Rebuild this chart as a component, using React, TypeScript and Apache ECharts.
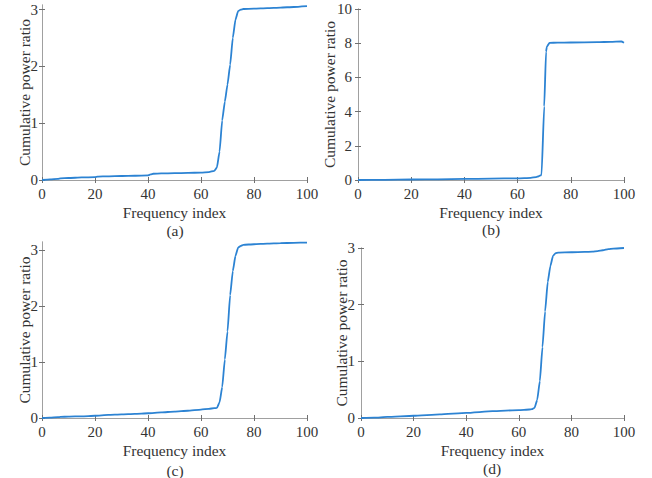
import React, { useEffect, useRef } from 'react';
import * as echarts from 'echarts';

// Panel (a)
const freqA = [0, 3, 6, 7, 10, 15, 20, 21, 25, 30, 35, 40, 41, 42, 45, 50, 55, 60, 63, 65, 66, 67, 68, 69, 70, 71, 72, 73, 74, 75, 76, 80, 85, 90, 95, 100];
const ratioA = [0, 0.01, 0.02, 0.03, 0.035, 0.045, 0.05, 0.06, 0.065, 0.07, 0.075, 0.08, 0.1, 0.11, 0.115, 0.12, 0.125, 0.13, 0.14, 0.16, 0.22, 0.5, 1.05, 1.38, 1.68, 2.03, 2.5, 2.82, 2.97, 3.0, 3.01, 3.015, 3.025, 3.035, 3.045, 3.06];

// Panel (b)
const freqB = [0, 10, 20, 30, 40, 50, 60, 65, 67, 68, 69, 70, 70.7, 71, 72, 75, 80, 90, 95, 99, 100];
const ratioB = [0, 0.01, 0.03, 0.04, 0.06, 0.08, 0.1, 0.13, 0.17, 0.22, 0.3, 4.3, 7.5, 7.8, 8.02, 8.03, 8.04, 8.06, 8.08, 8.1, 8.03];

// Panel (c)
const freqC = [0, 3, 6, 7, 10, 15, 20, 25, 30, 35, 40, 45, 50, 55, 60, 63, 65, 66, 67, 68, 69, 70, 71, 72, 73, 74, 75, 76, 80, 85, 90, 95, 100];
const ratioC = [0, 0.005, 0.015, 0.02, 0.025, 0.03, 0.04, 0.055, 0.065, 0.075, 0.085, 0.1, 0.115, 0.13, 0.15, 0.165, 0.175, 0.18, 0.28, 0.55, 1.05, 1.55, 2.2, 2.63, 2.9, 3.05, 3.08, 3.1, 3.11, 3.12, 3.13, 3.135, 3.14];

// Panel (d)
const freqD = [0, 5, 10, 20, 30, 40, 50, 60, 64, 65, 66, 67, 68, 69, 70, 71, 72, 73, 74, 75, 80, 85, 88, 90, 92, 94, 96, 100];
const ratioD = [0, 0.005, 0.02, 0.04, 0.065, 0.09, 0.12, 0.14, 0.15, 0.155, 0.18, 0.32, 0.65, 1.25, 1.88, 2.4, 2.68, 2.86, 2.91, 2.92, 2.925, 2.93, 2.935, 2.945, 2.96, 2.98, 2.99, 3.0];

// Tick values
const xTicks = [0, 20, 40, 60, 80, 100];
const yTicksSmall = [0, 1, 2, 3];
const yTicksLarge = [0, 2, 4, 6, 8, 10];

const panelLabels = ['(a)', '(b)', '(c)', '(d)'];
const xTitle = 'Frequency index';
const yTitle = 'Cumulative power ratio';

const FONT = 'Liberation Serif';
const AXIS_COLOR = '#a0a0a0';
const TICK_COLOR = '#707070';
const TEXT_COLOR = '#333333';
const LINE_COLOR = '#2c83d3';

export default function App() {
  const ref = useRef<HTMLDivElement>(null);

  useEffect(() => {
    if (!ref.current) return;
    const chart = echarts.init(ref.current, undefined, { renderer: 'svg' });

    const panels = [
      { freq: freqA, ratio: ratioA, ymax: 3.08, yTicks: yTicksSmall, grid: { left: 42, top: 5, width: 265, height: 175 }, nameGap: 10, labelMargin: 4, label: { x: 175, y: 230 } },
      { freq: freqB, ratio: ratioB, ymax: 10, yTicks: yTicksLarge, grid: { left: 358, top: 9, width: 266, height: 171 }, nameGap: 21, labelMargin: 6, label: { x: 491, y: 229 } },
      { freq: freqC, ratio: ratioC, ymax: 3.15, yTicks: yTicksSmall, grid: { left: 42, top: 242, width: 265, height: 176 }, nameGap: 10, labelMargin: 4, label: { x: 175, y: 470 } },
      { freq: freqD, ratio: ratioD, ymax: 3, yTicks: yTicksSmall, grid: { left: 361, top: 248, width: 263, height: 170 }, nameGap: 12, labelMargin: 6, label: { x: 492, y: 468 } },
    ];

    const grids: any[] = [];
    const xAxes: any[] = [];
    const yAxes: any[] = [];
    const series: any[] = [];
    const graphics: any[] = [];

    const axisLine = { show: true, lineStyle: { color: AXIS_COLOR, width: 1 } };
    const labelStyle = { color: TEXT_COLOR, fontSize: 15, fontFamily: FONT };
    const nameStyle = { color: TEXT_COLOR, fontSize: 15.5, fontFamily: FONT };

    panels.forEach((p, i) => {
      grids.push({ ...p.grid, containLabel: false });
      const xTick = { show: true, inside: true, length: 3, customValues: xTicks, lineStyle: { color: TICK_COLOR, width: 1 } };
      const yTick = { show: true, inside: true, length: 3, customValues: p.yTicks, lineStyle: { color: TICK_COLOR, width: 1 } };
      xAxes.push({
        type: 'value', gridIndex: i, position: 'bottom', min: 0, max: 100,
        axisLine, axisTick: xTick, splitLine: { show: false },
        axisLabel: { ...labelStyle, margin: 6, customValues: xTicks },
        name: xTitle, nameLocation: 'middle', nameGap: 24, nameMoveOverlap: false,
        nameTextStyle: nameStyle,
      });
      xAxes.push({
        type: 'value', gridIndex: i, position: 'top', min: 0, max: 100,
        axisLine, axisTick: xTick, splitLine: { show: false }, axisLabel: { show: false },
      });
      yAxes.push({
        type: 'value', gridIndex: i, position: 'left', min: 0, max: p.ymax,
        axisLine, axisTick: yTick, splitLine: { show: false },
        axisLabel: { ...labelStyle, margin: p.labelMargin, customValues: p.yTicks },
        name: yTitle, nameLocation: 'middle', nameGap: p.nameGap, nameRotate: 90, nameMoveOverlap: false,
        nameTextStyle: nameStyle,
      });
      yAxes.push({
        type: 'value', gridIndex: i, position: 'right', min: 0, max: p.ymax,
        axisLine, axisTick: yTick, splitLine: { show: false }, axisLabel: { show: false },
      });
      series.push({
        type: 'line',
        xAxisIndex: 2 * i,
        yAxisIndex: 2 * i,
        data: p.freq.map((f, k) => [f, p.ratio[k]]),
        showSymbol: false,
        symbol: 'none',
        smooth: 0.15,
        smoothMonotone: 'x',
        lineStyle: { color: LINE_COLOR, width: 1.8 },
      });
      graphics.push({
        type: 'text',
        x: p.label.x,
        y: p.label.y,
        style: {
          text: panelLabels[i],
          fill: TEXT_COLOR,
          fontSize: 15.5,
          fontFamily: FONT,
          align: 'center',
          verticalAlign: 'middle',
        },
      });
    });

    chart.setOption({
      animation: false,
      backgroundColor: '#ffffff',
      grid: grids,
      xAxis: xAxes,
      yAxis: yAxes,
      series,
      graphic: graphics,
    });

    return () => chart.dispose();
  }, []);

  return (
    <div
      ref={ref}
      style={{ position: 'fixed', left: 0, top: 0, width: 652, height: 478, background: '#fff' }}
    />
  );
}
